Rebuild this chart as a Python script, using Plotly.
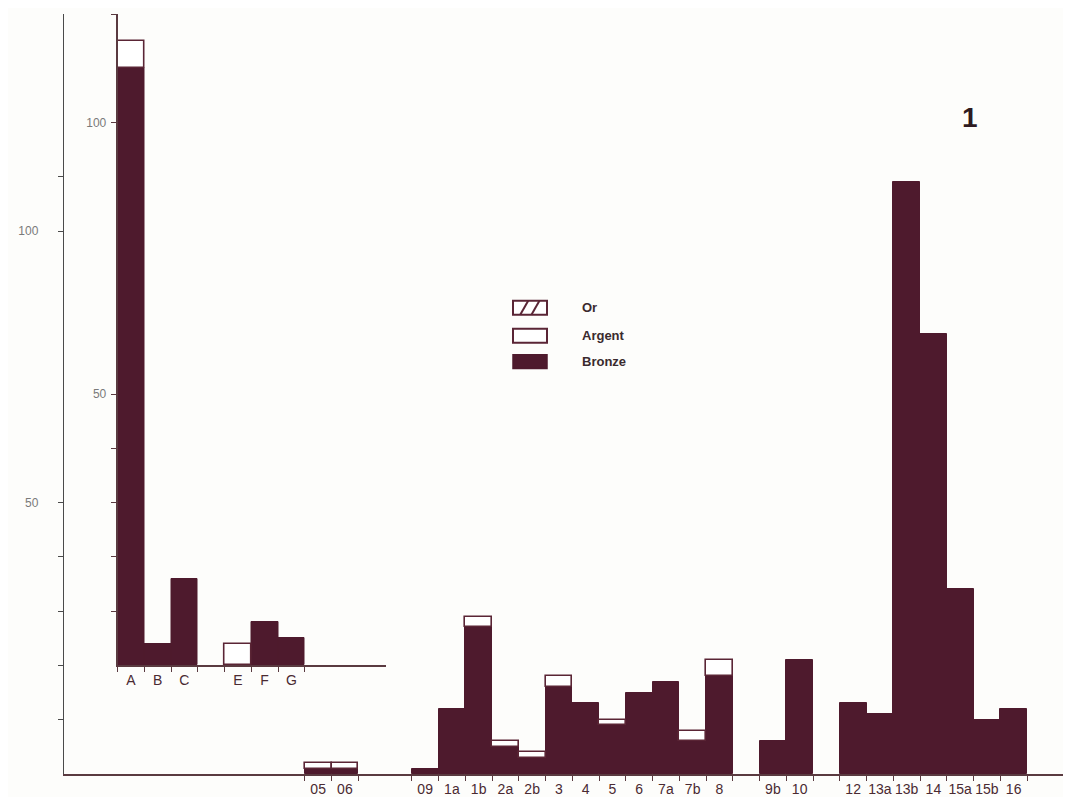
import plotly.graph_objects as go

# ---------------- data ----------------
# main histogram (slots left to right, "" = empty slot)
main_labels = ["05", "06", "", "", "09", "1a", "1b", "2a", "2b", "3", "4", "5", "6",
               "7a", "7b", "8", "", "9b", "10", "", "12", "13a", "13b", "14", "15a", "15b", "16"]
main_bronze = [1, 1, 0, 0, 1, 12, 27, 5, 3, 16, 13, 9, 15,
               17, 6, 18, 0, 6, 21, 0, 13, 11, 109, 81, 34, 10, 12]
main_argent = [1, 1, 0, 0, 0, 0, 2, 1, 1, 2, 0, 1, 0,
               0, 2, 3, 0, 0, 0, 0, 0, 0, 0, 0, 0, 0, 0]

# inset histogram
inset_labels = ["A", "B", "C", "", "E", "F", "G"]
inset_bronze = [110, 4, 16, 0, 0, 8, 5]
inset_argent = [5, 0, 0, 0, 4, 0, 0]

main_ytick_vals = [10, 20, 30, 40, 50, 100, 110]
main_ytick_text = ["", "", "", "", "50", "100", ""]
inset_ytick_vals = [10, 20, 30, 40, 50, 100, 120]
inset_ytick_text = ["", "", "", "", "50", "100", ""]

legend_labels = ["Or", "Argent", "Bronze"]
panel_number = "1"

# ---------------- layout constants ----------------
# the page body has an 8px margin, so the figure starts at (8, 8) in the window
OFF = 8
W, H = 1055, 789
ML, MT = 64 - OFF, 14 - OFF
MR = 0
MB = H - MT - (777 - 14)
PW, PH = W - ML - MR, H - MT - MB
SLOT_PX = 26.75
N_SLOTS = PW / SLOT_PX
MAIN_START = 9
INSET_START = 2
INSET_END = 12.04
Y_MAX = 140
INSET_OFFSET = 20

BRONZE = "#4e1a2d"
OUTLINE = "#5a2535"
AXIS = "#5a3a40"
LABEL = "#4a2a32"
GRAYLBL = "#7a7a7a"
FONT = "Liberation Sans, Arial, sans-serif"


def slot_traces(labels, bronze, argent, start, xa, ya):
    xb, yb, xa_, ya_, ba = [], [], [], [], []
    bounds = set()
    for i, (lab, b, a) in enumerate(zip(labels, bronze, argent)):
        c = start + i + 0.5
        if b > 0:
            xb.append(c); yb.append(b)
        if a > 0:
            xa_.append(c); ya_.append(a); ba.append(b)
        if b > 0 or a > 0 or lab:
            bounds.add(start + i); bounds.add(start + i + 1)
    tr = [
        go.Bar(x=xb, y=yb, width=1, marker=dict(color=BRONZE, line=dict(color=BRONZE, width=1)),
               xaxis=xa, yaxis=ya, name="Bronze", showlegend=False, hoverinfo="x+y"),
        go.Bar(x=xa_, y=ya_, base=ba, width=1,
               marker=dict(color="white", line=dict(color=OUTLINE, width=1.6)),
               xaxis=xa, yaxis=ya, name="Argent", showlegend=False, hoverinfo="x+y"),
    ]
    centers = [start + i + 0.5 for i, lab in enumerate(labels) if lab]
    texts = [lab for lab in labels if lab]
    return tr, centers, texts, sorted(bounds)


main_tr, main_cx, main_tx, main_bounds = slot_traces(main_labels, main_bronze, main_argent, MAIN_START, "x", "y")
inset_tr, inset_cx, inset_tx, inset_bounds = slot_traces(inset_labels, inset_bronze, inset_argent, INSET_START, "x2", "y2")
inset_bounds = list(range(INSET_START, INSET_START + len(inset_labels) + 1))

fig = go.Figure(main_tr + inset_tr)

fig.update_layout(
    width=W, height=H,
    margin=dict(l=ML, r=MR, t=MT, b=MB, pad=0),
    paper_bgcolor="#fdfdfb", plot_bgcolor="rgba(0,0,0,0)",
    barmode="overlay", bargap=0,
    font=dict(family=FONT, color=LABEL, size=14),
    showlegend=False,
    xaxis=dict(range=[0, N_SLOTS], domain=[0, 1], anchor="y",
               showline=True, linecolor=AXIS, linewidth=1.6, showgrid=False, zeroline=False,
               tickmode="array", tickvals=main_cx, ticktext=main_tx, ticks="", ticklen=0,
               ticklabelstandoff=1,
               tickfont=dict(size=14, color=LABEL, family=FONT),
               minor=dict(tickmode="array", tickvals=main_bounds, ticks="outside",
                          ticklen=5, tickwidth=1.2, tickcolor=AXIS)),
    yaxis=dict(range=[0, Y_MAX], domain=[0, 1], anchor="x",
               showline=True, linecolor="#4a4a4a", linewidth=1.4, showgrid=False, zeroline=False,
               tickmode="array", tickvals=main_ytick_vals, ticktext=main_ytick_text,
               ticks="outside", ticklen=5, tickwidth=1.2, tickcolor="#4a4a4a",
               ticklabelstandoff=17,
               tickfont=dict(size=12, color=GRAYLBL, family=FONT)),
    xaxis2=dict(range=[INSET_START, INSET_END],
                domain=[INSET_START / N_SLOTS, INSET_END / N_SLOTS], anchor="y2",
                showline=True, linecolor=AXIS, linewidth=1.6, showgrid=False, zeroline=False,
                tickmode="array", tickvals=inset_cx, ticktext=inset_tx, ticks="", ticklen=0,
                ticklabelstandoff=1,
                tickfont=dict(size=14, color=LABEL, family=FONT),
                minor=dict(tickmode="array", tickvals=inset_bounds, ticks="outside",
                           ticklen=5, tickwidth=1.2, tickcolor=AXIS)),
    yaxis2=dict(range=[0, Y_MAX - INSET_OFFSET], domain=[INSET_OFFSET / Y_MAX, 1], anchor="x2",
                showline=True, linecolor=AXIS, linewidth=1.6, showgrid=False, zeroline=False,
                tickmode="array", tickvals=inset_ytick_vals, ticktext=inset_ytick_text,
                ticks="outside", ticklen=5, tickwidth=1.2, tickcolor=AXIS,
                ticklabelstandoff=2,
                tickfont=dict(size=12, color=GRAYLBL, family=FONT)),
)


def px_to_paper(px, py):
    # window pixel -> paper fraction
    return (px - OFF - ML) / PW, (OFF + H - MB - py) / PH


# ---- hand-made legend (swatches + labels) ----
box_x0, box_x1 = 513, 547
rows_y = [309, 337, 363]
bh = 7
shapes = []
annotations = []
for lab, cy in zip(legend_labels, rows_y):
    x0, y0 = px_to_paper(box_x0, cy + bh)
    x1, y1 = px_to_paper(box_x1, cy - bh)
    if lab == "Bronze":
        shapes.append(dict(type="rect", xref="paper", yref="paper", x0=x0, y0=y0, x1=x1, y1=y1,
                           fillcolor=BRONZE, line=dict(color=BRONZE, width=1.5)))
    else:
        shapes.append(dict(type="rect", xref="paper", yref="paper", x0=x0, y0=y0, x1=x1, y1=y1,
                           fillcolor="white", line=dict(color=OUTLINE, width=2)))
    if lab == "Or":
        for hx in (0.33, 0.66):
            ha, hb = px_to_paper(box_x0 + (box_x1 - box_x0) * hx - 4, cy + bh)
            hc, hd = px_to_paper(box_x0 + (box_x1 - box_x0) * hx + 4, cy - bh)
            shapes.append(dict(type="line", xref="paper", yref="paper", x0=ha, y0=hb, x1=hc, y1=hd,
                               line=dict(color=OUTLINE, width=2)))
    tx, ty = px_to_paper(580, cy)
    annotations.append(dict(text="<b>%s</b>" % lab, x=tx, y=ty, xref="paper", yref="paper",
                            xanchor="left", yanchor="middle", showarrow=False,
                            font=dict(size=13, color="#3a2a2e", family=FONT)))

nx, ny = px_to_paper(970, 118)
annotations.append(dict(text="<b>%s</b>" % panel_number, x=nx, y=ny, xref="paper", yref="paper",
                        xanchor="center", yanchor="middle", showarrow=False,
                        font=dict(size=28, color="#2e1a20", family=FONT)))

fig.update_layout(shapes=shapes, annotations=annotations)

fig.write_html("out.html")
